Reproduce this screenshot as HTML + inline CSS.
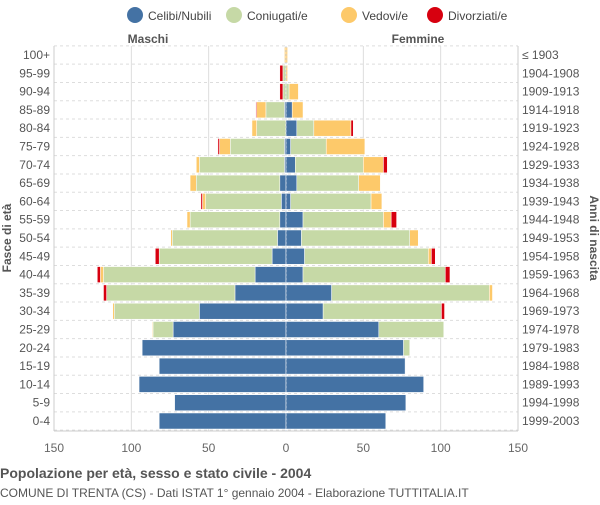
<!DOCTYPE html>
<html><head><meta charset="utf-8"><style>
body{margin:0;background:#fff;font-family:"Liberation Sans",sans-serif}
svg text{font-family:"Liberation Sans",sans-serif}
</style></head><body>
<svg id="c" width="600" height="500" xmlns="http://www.w3.org/2000/svg"></svg>
<script>
const ages=["100+","95-99","90-94","85-89","80-84","75-79","70-74","65-69","60-64","55-59","50-54","45-49","40-44","35-39","30-34","25-29","20-24","15-19","10-14","5-9","0-4"];
const births=["≤ 1903","1904-1908","1909-1913","1914-1918","1919-1923","1924-1928","1929-1933","1934-1938","1939-1943","1944-1948","1949-1953","1954-1958","1959-1963","1964-1968","1969-1973","1974-1978","1979-1983","1984-1988","1989-1993","1994-1998","1999-2003"];
const mCel=[0,0,0,1,0,1,1,4,3,4,5.5,9,20,33,56,73,93,82,95,72,82];
const mCon=[0,2,2,12,19,35,55,54,49,58,68,73,98,83,55,13,0,0,0,0,0];
const mVed=[1,0,0,6,3,7,2,4,2,2,1,0,2,0,1,0.5,0,0,0,0,0];
const mDiv=[0,2,2,0.5,0,1,0,0,1,0,0,2.5,2,2,0,0,0,0,0,0,0];
const fCel=[0,0,0,4,7,3,6,7,3,11,10,12,11,29.5,24,60,76,77,89,77.5,64.5];
const fCon=[0,0,2,0,11,23,44,40,52,52,70,80,92,102,76.5,42,4,0,0,0,0];
const fVed=[1,1,6,7,24,25,13,14,7,5,5.5,2,0,2,0,0,0,0,0,0,0];
const fDiv=[0,0,0,0,1.5,0,2.5,0,0,3.5,0,2.5,3,0,2,0,0,0,0,0,0];
const ticks=[150,100,50,0,50,100,150];
const tickVals=[-150,-100,-50,0,50,100,150];
const colors=["#4472a4","#c6d9a6","#fdc96a","#d7000f"];
const seriesNames=["Celibi/Nubili","Coniugati/e","Vedovi/e","Divorziati/e"];
const NS="http://www.w3.org/2000/svg";
const svg=document.getElementById('c');
const cx=286, k=232/150, plotTop=46, rowH=18.3, bh=16;
const X=v=>cx+v*k;
const Y=i=>55+i*rowH;
function el(t,a,txt){const e=document.createElementNS(NS,t);for(const n in a)e.setAttribute(n,a[n]);if(txt!=null)e.textContent=txt;svg.appendChild(e);return e;}
tickVals.forEach((v,i)=>{
 const g=el('line',{x1:X(v),x2:X(v),y1:plotTop,y2:431,stroke:v===0?'#9ab':'#ddd','stroke-dasharray':v===0?'2,2':'none'});
 
 
 const t=el('text',{x:X(v),y:452,'text-anchor':'middle','font-size':12,fill:'#666'},ticks[i]);
 
 
});
for(let i=0;i<=ages.length;i++){
 const l=el('line',{x1:54,x2:518,y1:Y(i)-rowH/2,y2:Y(i)-rowH/2,stroke:'#ddd','stroke-dasharray':'3,3'});
 
 
}
el('line',{x1:54,x2:54,y1:plotTop,y2:431,stroke:'#ccc'});
el('line',{x1:518,x2:518,y1:plotTop,y2:431,stroke:'#ccc'});
el('line',{x1:54,x2:518,y1:431,y2:431,stroke:'#ccc'});
const ms=[mCel,mCon,mVed,mDiv], fs=[fCel,fCon,fVed,fDiv];
ages.forEach((a,i)=>{
 let acc=0;
 ms.forEach((s,j)=>{const v=s[i];if(v>0){const r=el('rect',{x:X(-(acc+v)),y:Y(i)-bh/2,width:v*k,height:bh,fill:colors[j],stroke:'#fff','stroke-width':0.5});
 
 }acc+=v;});
 acc=0;
 fs.forEach((s,j)=>{const v=s[i];if(v>0){const r=el('rect',{x:X(acc),y:Y(i)-bh/2,width:v*k,height:bh,fill:colors[j],stroke:'#fff','stroke-width':0.5});
 
 }acc+=v;});
 const t=el('text',{x:50,y:Y(i)+4,'text-anchor':'end','font-size':12,fill:'#555'},a);
 
 
 const b=el('text',{x:522,y:Y(i)+4,'font-size':12,fill:'#555'},births[i]);
 
 
});
el('line',{x1:cx,x2:cx,y1:plotTop,y2:431,stroke:'#cfd8e6','stroke-dasharray':'2,2'});
let h=el('text',{x:148,y:43,'text-anchor':'middle','font-size':12,'font-weight':'bold',fill:'#555'},'Maschi');

h=el('text',{x:418,y:43,'text-anchor':'middle','font-size':12,'font-weight':'bold',fill:'#555'},'Femmine');

h=el('text',{x:11,y:238,'text-anchor':'middle','font-size':12,'font-weight':'bold',fill:'#555',transform:'rotate(-90 11 238)'},'Fasce di età');

h=el('text',{x:590,y:238,'text-anchor':'middle','font-size':12,'font-weight':'bold',fill:'#555',transform:'rotate(90 590 238)'},'Anni di nascita');

const lx=[127,226,341,427];
seriesNames.forEach((n,j)=>{
 const c=el('circle',{cx:lx[j]+8,cy:15,r:8,fill:colors[j]});
 
 const t=el('text',{x:lx[j]+21,y:20,'font-size':12,fill:'#444'},n);
 
});
h=el('text',{x:0,y:478,'font-size':14,'font-weight':'bold',fill:'#555'},'Popolazione per età, sesso e stato civile - 2004');

h=el('text',{x:0,y:497,'font-size':12,fill:'#555'},'COMUNE DI TRENTA (CS) - Dati ISTAT 1° gennaio 2004 - Elaborazione TUTTITALIA.IT');

</script>
</body></html>
